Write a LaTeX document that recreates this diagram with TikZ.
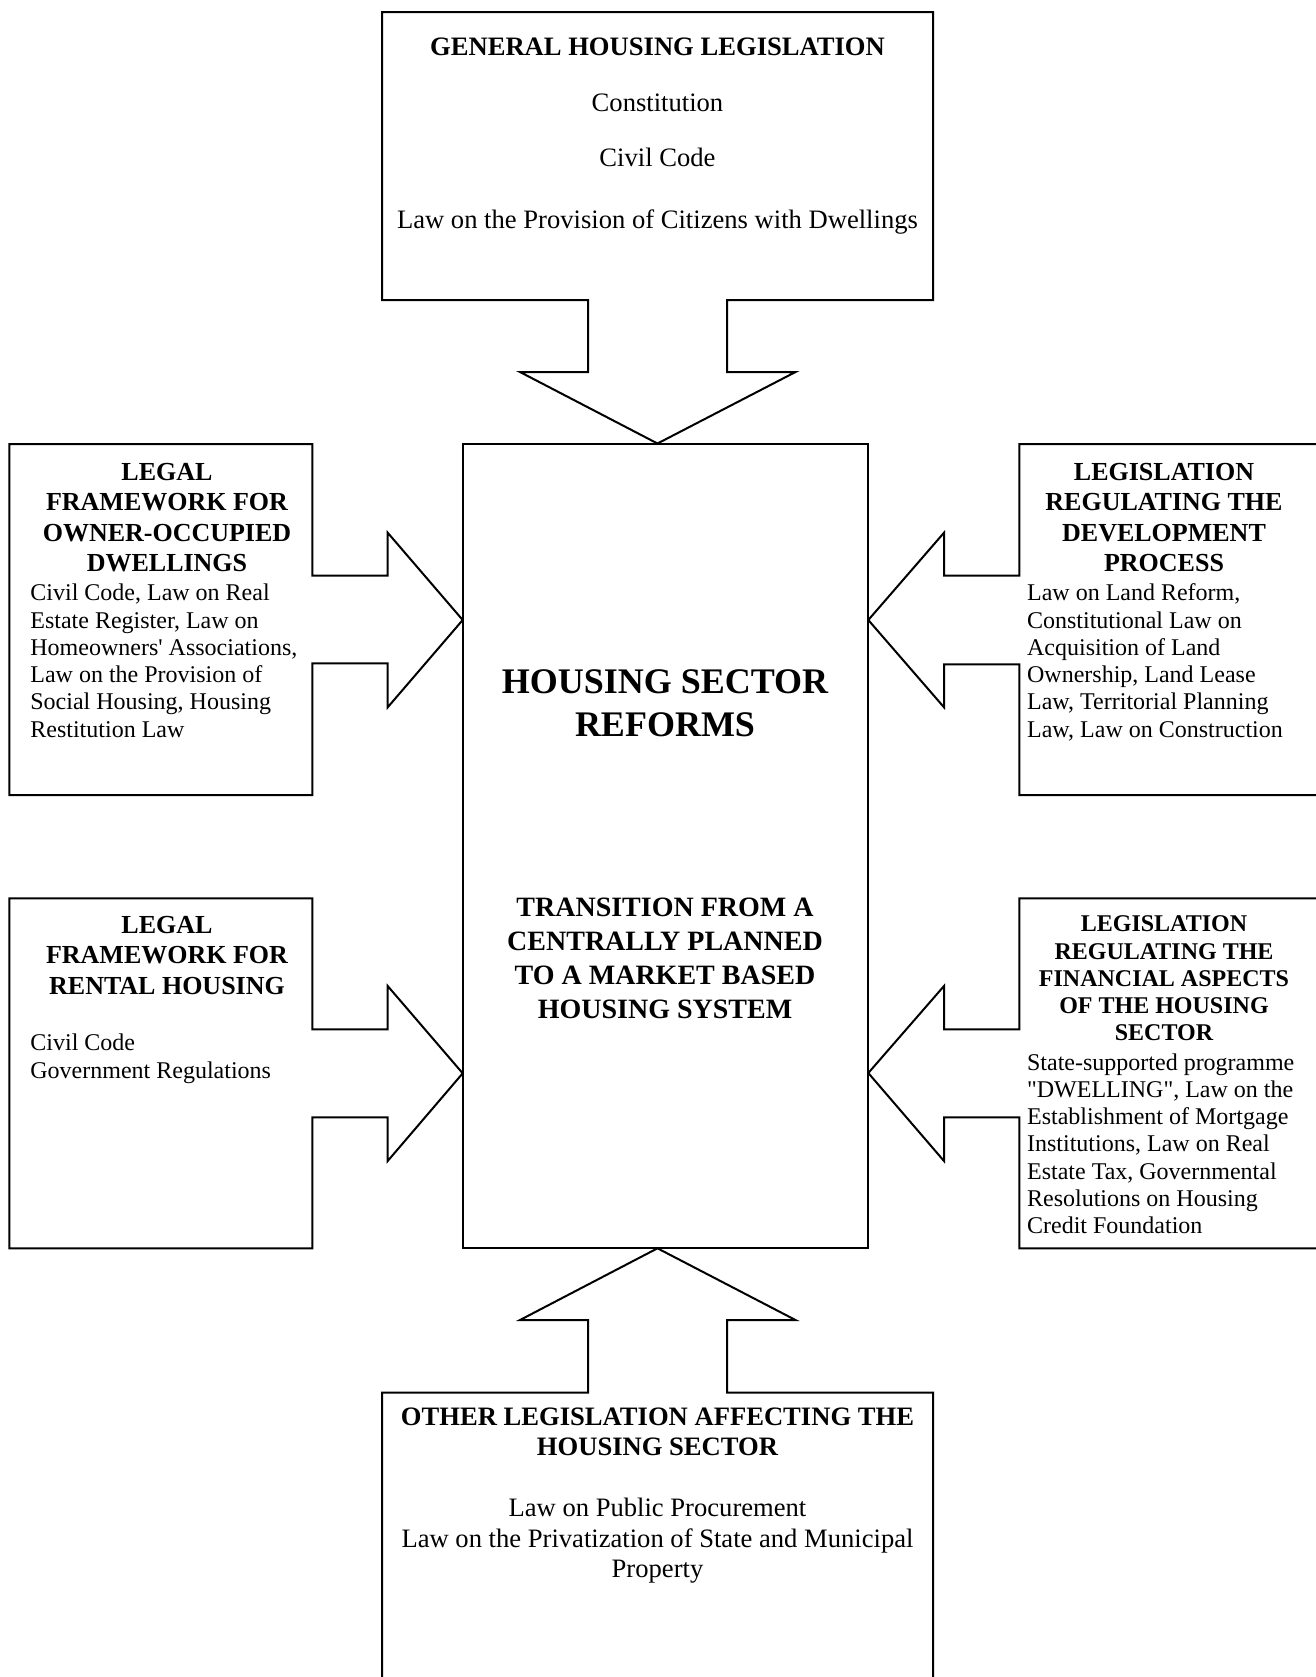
\documentclass[tikz,border=0pt]{standalone}
\usepackage{fontspec}
\setmainfont{Liberation Serif}
\newcommand\blkc[1]{\begin{tabular}[t]{@{}c@{}}#1\end{tabular}}
\newcommand\blkl[1]{\begin{tabular}[t]{@{}l@{}}#1\end{tabular}}
\begin{document}
\begin{tikzpicture}[x=0.5pt,y=-0.5pt,
  outline/.style={draw=black,line width=1pt,line join=miter},
  txt/.style={inner sep=0pt,anchor=base},
  txtl/.style={inner sep=0pt,anchor=base west},
  ttl/.style={txt,font=\bfseries\fontsize{13}{15.25}\selectfont},
  ttlsmall/.style={txt,font=\bfseries\fontsize{12}{13.65}\selectfont},
  bodysm/.style={txtl,font=\fontsize{12}{13.65}\selectfont},
  bodybig/.style={txt,font=\fontsize{13.3}{15.3}\selectfont}]
\useasboundingbox (0,0) rectangle (1316,1677);
\clip (0,0) rectangle (1316,1677);
\fill[white] (0,0) rectangle (1316,1677);

% centre box
\draw[outline] (462.7,443.5) rectangle (868.3,1248.3);
\coordinate (cN) at (657.5,443.5);
\coordinate (cS) at (657.5,1248.3);
\coordinate (cW1) at (462.7,620);
\coordinate (cE1) at (868.3,620);
\coordinate (cW2) at (462.7,1073.3);
\coordinate (cE2) at (868.3,1073);

% top box with block arrow
\draw[outline] (382,12) -- (933,12) -- (933,300) -- (727,300) -- (727,372) -- (795.5,372)
  -- (cN) -- (520,372) -- (588,372) -- (588,300) -- (382,300) -- cycle;
% bottom box with block arrow
\draw[outline] (382,1700) -- (382,1392.7) -- (588,1392.7) -- (588,1320) -- (520,1320)
  -- (cS) -- (795.5,1320) -- (727,1320) -- (727,1392.7) -- (933,1392.7) -- (933,1700);
% left box 1
\draw[outline] (9.3,444) -- (312.3,444) -- (312.3,575.7) -- (387.7,575.7) -- (387.7,532.7)
  -- (cW1) -- (387.7,707.3) -- (387.7,663.3) -- (312.3,663.3) -- (312.3,795) -- (9.3,795) -- cycle;
% left box 2
\draw[outline] (9.3,898.3) -- (312.3,898.3) -- (312.3,1029.3) -- (387.7,1029.3) -- (387.7,986)
  -- (cW2) -- (387.7,1161) -- (387.7,1117.3) -- (312.3,1117.3) -- (312.3,1248.3) -- (9.3,1248.3) -- cycle;
% right box 1
\draw[outline] (1340,444) -- (1019.3,444) -- (1019.3,575.7) -- (944,575.7) -- (944,532.7)
  -- (cE1) -- (944,707.3) -- (944,664.3) -- (1019.3,664.3) -- (1019.3,795) -- (1340,795);
% right box 2
\draw[outline] (1340,898.3) -- (1019.3,898.3) -- (1019.3,1029.3) -- (944,1029.3) -- (944,986)
  -- (cE2) -- (944,1161) -- (944,1117.3) -- (1019.3,1117.3) -- (1019.3,1248.3) -- (1340,1248.3);

% texts: top
\node[txt,font=\bfseries\fontsize{13.3}{15.3}\selectfont] (topT) at (657.5,55) {GENERAL HOUSING LEGISLATION};
\node[bodybig] (topB) at (657.5,111.7) {\blkc{Constitution\\[12.2pt] Civil Code\\[15.5pt] Law on the Provision of Citizens with Dwellings}};

% centre
\node[txt,font=\bfseries\fontsize{18}{21.7}\selectfont] (cT) at (665,693.3) {\blkc{HOUSING SECTOR\\ REFORMS}};
\node[txt,font=\bfseries\fontsize{14}{17}\selectfont] (cB) at (665,916) {\blkc{TRANSITION FROM A\\ CENTRALLY PLANNED\\ TO A MARKET BASED\\ HOUSING SYSTEM}};

% left 1
\node[ttl] (l1T) at (167,480) {\blkc{LEGAL\\ FRAMEWORK FOR\\ OWNER-OCCUPIED\\ DWELLINGS}};
\node[bodysm] (l1B) at (30,600.7) {\blkl{Civil Code, Law on Real\\ Estate Register, Law on\\ Homeowners\textquotesingle{} Associations,\\ Law on the Provision of\\ Social Housing, Housing\\ Restitution Law}};

% left 2
\node[ttl] (l2T) at (167,933.3) {\blkc{LEGAL\\ FRAMEWORK FOR\\ RENTAL HOUSING}};
\node[bodysm] (l2B) at (30,1050.7) {\blkl{Civil Code\\ Government Regulations}};

% right 1
\node[ttl] (r1T) at (1164,480) {\blkc{LEGISLATION\\ REGULATING THE\\ DEVELOPMENT\\ PROCESS}};
\node[bodysm] (r1B) at (1026.7,600.7) {\blkl{Law on Land Reform,\\ Constitutional Law on\\ Acquisition of Land\\ Ownership, Land Lease\\ Law, Territorial Planning\\ Law, Law on Construction}};

% right 2
\node[ttlsmall] (r2T) at (1164,931.7) {\blkc{LEGISLATION\\ REGULATING THE\\ FINANCIAL ASPECTS\\ OF THE HOUSING\\ SECTOR}};
\node[bodysm] (r2B) at (1026.7,1070) {\blkl{State-supported programme\\ \textquotedbl DWELLING\textquotedbl, Law on the\\ Establishment of Mortgage\\ Institutions, Law on Real\\ Estate Tax, Governmental\\ Resolutions on Housing\\ Credit Foundation}};

% bottom
\node[txt,font=\bfseries\fontsize{13.3}{15.35}\selectfont] (botT) at (657.5,1425) {\blkc{OTHER LEGISLATION AFFECTING THE\\ HOUSING SECTOR}};
\node[bodybig] (botB) at (657.5,1516.7) {\blkc{Law on Public Procurement\\ Law on the Privatization of State and Municipal\\ Property}};
\end{tikzpicture}
\end{document}
